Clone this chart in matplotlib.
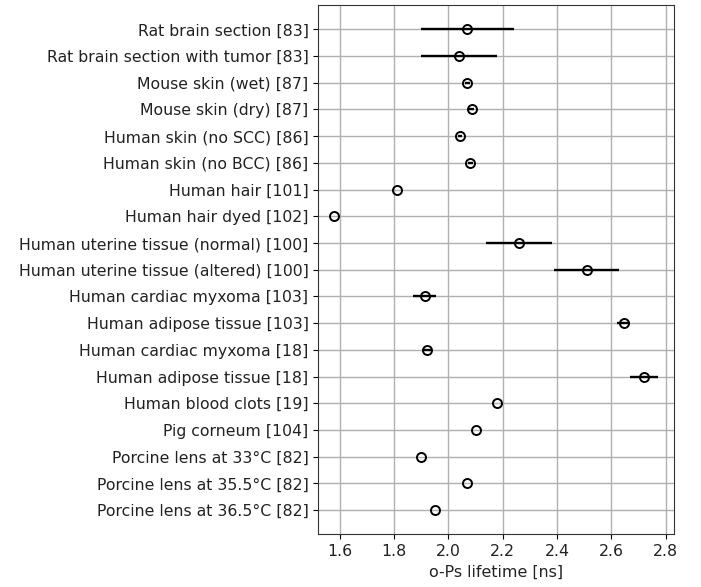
import numpy as np
import matplotlib.pyplot as plt

labels = [
    "Rat brain section [83]",
    "Rat brain section with tumor [83]",
    "Mouse skin (wet) [87]",
    "Mouse skin (dry) [87]",
    "Human skin (no SCC) [86]",
    "Human skin (no BCC) [86]",
    "Human hair [101]",
    "Human hair dyed [102]",
    "Human uterine tissue (normal) [100]",
    "Human uterine tissue (altered) [100]",
    "Human cardiac myxoma [103]",
    "Human adipose tissue [103]",
    "Human cardiac myxoma [18]",
    "Human adipose tissue [18]",
    "Human blood clots [19]",
    "Pig corneum [104]",
    "Porcine lens at 33°C [82]",
    "Porcine lens at 35.5°C [82]",
    "Porcine lens at 36.5°C [82]",
]
lifetime = [2.07, 2.04, 2.07, 2.085, 2.043, 2.081, 1.81, 1.58, 2.26, 2.51,
            1.912, 2.645, 1.92, 2.72, 2.18, 2.10, 1.90, 2.07, 1.95]
error = [0.17, 0.14, 0.01, 0.01, 0.006, 0.01, 0, 0, 0.12, 0.12,
         0.043, 0.025, 0.017, 0.05, 0, 0, 0, 0, 0]

fig, ax = plt.subplots(figsize=(7.01, 5.87), dpi=100)
y = np.arange(len(labels))
ax.errorbar(lifetime, y, xerr=error, fmt='o', color='black', mfc='none',
            ms=6.5, mew=1.4, elinewidth=1.7, capsize=0, zorder=3)
ax.set_yticks(y)
ax.set_yticklabels(labels, fontsize=11.3, color='#222222')
ax.tick_params(axis='x', labelsize=11.3, labelcolor='#222222')
ax.invert_yaxis()
ax.set_xlabel('o-Ps lifetime [ns]', fontsize=11.4, color='#222222')
ax.grid(True, color='#b0b0b0', linewidth=1)
ax.set_axisbelow(True)
for s in ax.spines.values():
    s.set_color('#333333')
plt.subplots_adjust(left=0.454, right=0.961, top=0.991, bottom=0.09)
plt.savefig('out.png', dpi=100)
